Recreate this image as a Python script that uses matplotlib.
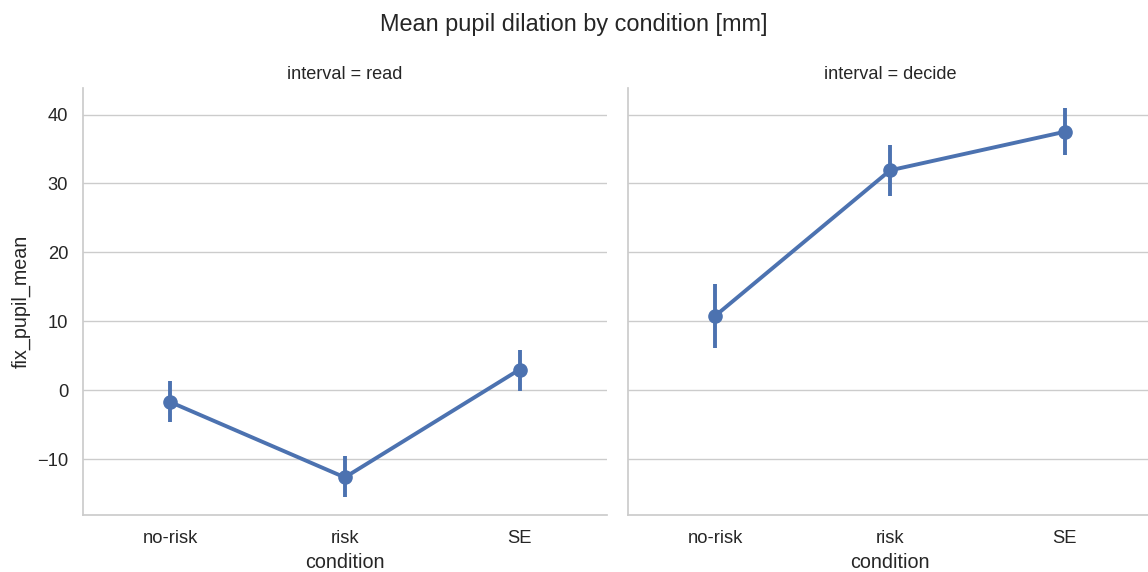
import numpy as np
import matplotlib
matplotlib.use("Agg")
import matplotlib.pyplot as plt
import seaborn as sns

sns.set_theme(style="whitegrid")
plt.rcParams['font.family'] = ['Liberation Sans', 'DejaVu Sans']
plt.rcParams['xtick.labelsize'] = 13.2
plt.rcParams['ytick.labelsize'] = 13.2
plt.rcParams['axes.labelsize'] = 14.2
plt.rcParams['xtick.major.pad'] = 4.5
plt.rcParams['ytick.major.pad'] = 4.5
plt.rcParams['axes.labelpad'] = 4.5

conditions = ["no-risk", "risk", "SE"]
intervals = ["read", "decide"]

# means and confidence interval bounds per interval
means = {"read": [-1.7, -12.65, 3.0], "decide": [10.8, 31.9, 37.5]}
ci_low = {"read": [-4.6, -15.5, -0.15], "decide": [6.1, 28.2, 34.1]}
ci_high = {"read": [1.35, -9.5, 5.8], "decide": [15.4, 35.6, 40.9]}

color = "#4C72B0"

fig, axes = plt.subplots(1, 2, figsize=(11.48, 5.72), dpi=100, sharey=True)
fig.subplots_adjust(left=0.072, right=1.0037, bottom=0.0997, top=0.8456, wspace=0.04)

x = np.arange(len(conditions))
for ax, iv in zip(axes, intervals):
    ax.vlines(x, ci_low[iv], ci_high[iv], color=color, lw=2.8, zorder=2)
    ax.plot(x, means[iv], color=color, lw=2.8, marker="o", ms=9.5, zorder=3)
    ax.set_xticks(x)
    ax.set_xticklabels(conditions)
    ax.set_xlim(-0.5, 2.5)
    ax.set_xlabel("condition")
    ax.set_title("interval = " + iv, fontsize=13.1, pad=7)
    ax.grid(axis="x", visible=False)
    sns.despine(ax=ax)

axes[0].set_ylim(-18.1, 43.8)
axes[0].set_yticks([-10, 0, 10, 20, 30, 40])
axes[0].set_ylabel("fix_pupil_mean")
axes[1].tick_params(axis="y", labelleft=False)

fig.suptitle("Mean pupil dilation by condition [mm]", fontsize=16.9, y=0.978)
fig.savefig("out.png", dpi=100)
